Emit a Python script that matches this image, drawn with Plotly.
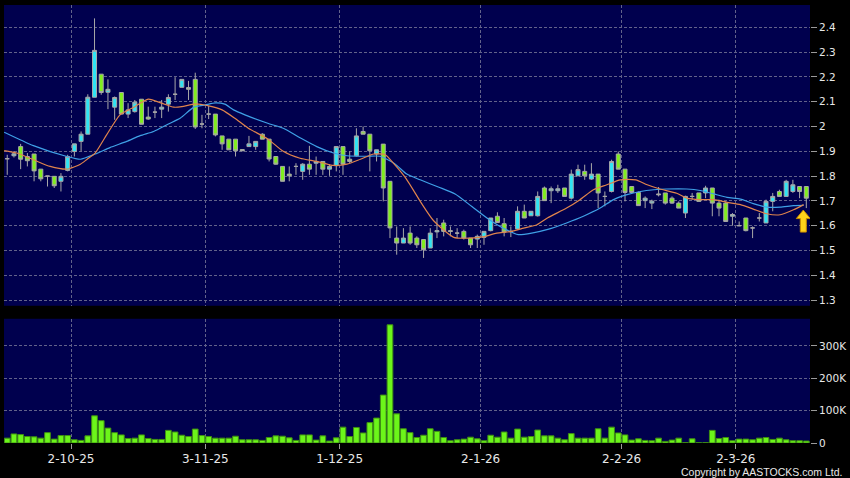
import plotly.graph_objects as go

# ---- data ----
tick_pos = [9.5, 29.5, 49.5, 70.5, 91.5, 108.5]
tick_labels = ["2-10-25", "3-11-25", "1-12-25", "2-1-26", "2-2-26", "2-3-26"]

opens = [
    1.870, 1.882, 1.919, 1.879, 1.889, 1.828, 1.800, 1.799, 1.779, 1.823,
    1.899, 1.940, 1.969, 2.118, 2.211, 2.138, 2.078, 2.137, 2.050, 2.060,
    2.110, 2.038, 2.058, 2.070, 2.090, 2.130, 2.158, 2.157, 2.190, 2.010,
    2.050, 2.050, 1.962, 1.949, 1.949, 1.907, 1.919, 1.919, 1.969, 1.949,
    1.879, 1.839, 1.808, 1.839, 1.819, 1.848, 1.852, 1.859, 1.828, 1.842,
    1.919, 1.868, 1.882, 1.980, 1.969, 1.889, 1.929, 1.779, 1.550, 1.530,
    1.570, 1.550, 1.544, 1.510, 1.575, 1.611, 1.580, 1.570, 1.577, 1.550,
    1.546, 1.553, 1.580, 1.638, 1.608, 1.577, 1.587, 1.658, 1.640, 1.640,
    1.752, 1.741, 1.741, 1.752, 1.711, 1.801, 1.819, 1.788, 1.808, 1.718,
    1.738, 1.889, 1.828, 1.758, 1.734, 1.701, 1.691, 1.728, 1.732, 1.711,
    1.691, 1.651, 1.718, 1.732, 1.732, 1.752, 1.691, 1.691, 1.638, 1.600,
    1.631, 1.591, 1.631, 1.611, 1.698, 1.738, 1.718, 1.738, 1.758, 1.758,
]
highs = [
    1.886, 1.900, 1.930, 1.893, 1.889, 1.828, 1.800, 1.799, 1.812, 1.886,
    1.930, 1.980, 2.130, 2.436, 2.211, 2.190, 2.121, 2.137, 2.094, 2.107,
    2.110, 2.080, 2.080, 2.107, 2.130, 2.199, 2.190, 2.184, 2.217, 2.047,
    2.083, 2.050, 1.962, 1.949, 1.949, 1.907, 1.962, 1.940, 1.973, 1.949,
    1.879, 1.839, 1.839, 1.852, 1.852, 1.922, 1.879, 1.859, 1.848, 1.919,
    1.919, 1.900, 1.993, 2.000, 1.969, 1.906, 1.929, 1.779, 1.597, 1.590,
    1.597, 1.557, 1.544, 1.590, 1.631, 1.624, 1.597, 1.590, 1.584, 1.550,
    1.564, 1.577, 1.631, 1.654, 1.631, 1.597, 1.678, 1.685, 1.658, 1.738,
    1.758, 1.758, 1.765, 1.752, 1.826, 1.846, 1.846, 1.852, 1.808, 1.738,
    1.866, 1.899, 1.828, 1.758, 1.738, 1.718, 1.705, 1.756, 1.732, 1.718,
    1.698, 1.721, 1.732, 1.732, 1.761, 1.752, 1.705, 1.698, 1.651, 1.617,
    1.631, 1.597, 1.651, 1.705, 1.732, 1.745, 1.785, 1.785, 1.758, 1.758,
]
lows = [
    1.805, 1.875, 1.828, 1.839, 1.779, 1.779, 1.758, 1.752, 1.738, 1.819,
    1.879, 1.900, 1.969, 2.118, 2.128, 2.070, 2.027, 2.050, 2.034, 2.056,
    2.009, 2.027, 2.034, 2.034, 2.060, 2.107, 2.158, 2.107, 1.990, 1.993,
    2.030, 1.960, 1.906, 1.906, 1.879, 1.902, 1.919, 1.906, 1.949, 1.859,
    1.846, 1.779, 1.779, 1.805, 1.785, 1.805, 1.805, 1.805, 1.801, 1.819,
    1.805, 1.852, 1.879, 1.969, 1.819, 1.859, 1.698, 1.550, 1.483, 1.530,
    1.523, 1.510, 1.470, 1.510, 1.550, 1.557, 1.557, 1.550, 1.544, 1.510,
    1.510, 1.523, 1.577, 1.613, 1.557, 1.554, 1.584, 1.631, 1.640, 1.637,
    1.701, 1.691, 1.732, 1.718, 1.705, 1.801, 1.785, 1.785, 1.671, 1.678,
    1.734, 1.828, 1.698, 1.734, 1.681, 1.671, 1.667, 1.718, 1.685, 1.688,
    1.671, 1.631, 1.705, 1.698, 1.711, 1.638, 1.638, 1.617, 1.600, 1.598,
    1.577, 1.550, 1.617, 1.611, 1.658, 1.718, 1.718, 1.732, 1.711, 1.671,
]
closes = [
    1.870, 1.890, 1.868, 1.862, 1.821, 1.789, 1.800, 1.761, 1.799, 1.879,
    1.930, 1.969, 2.118, 2.307, 2.137, 2.150, 2.117, 2.050, 2.067, 2.098,
    2.009, 2.030, 2.058, 2.078, 2.117, 2.130, 2.190, 2.150, 1.998, 2.010,
    2.050, 1.966, 1.930, 1.906, 1.902, 1.902, 1.930, 1.940, 1.949, 1.869,
    1.848, 1.779, 1.801, 1.839, 1.848, 1.828, 1.859, 1.828, 1.839, 1.919,
    1.848, 1.859, 1.962, 1.969, 1.902, 1.906, 1.752, 1.591, 1.530, 1.550,
    1.530, 1.523, 1.503, 1.570, 1.580, 1.577, 1.577, 1.570, 1.550, 1.523,
    1.557, 1.577, 1.631, 1.613, 1.574, 1.577, 1.658, 1.631, 1.658, 1.718,
    1.701, 1.749, 1.749, 1.718, 1.808, 1.826, 1.801, 1.808, 1.732, 1.718,
    1.859, 1.828, 1.734, 1.734, 1.681, 1.711, 1.699, 1.725, 1.691, 1.691,
    1.671, 1.718, 1.718, 1.698, 1.752, 1.691, 1.671, 1.617, 1.645, 1.600,
    1.580, 1.591, 1.631, 1.698, 1.718, 1.718, 1.779, 1.765, 1.738, 1.711,
]
# volume in thousands of shares
volume_k = [
    15, 28, 26, 20, 19, 15, 32, 12, 23, 23,
    10, 8, 22, 84, 69, 46, 32, 25, 14, 15,
    25, 14, 11, 11, 39, 34, 24, 20, 43, 23,
    20, 15, 15, 15, 21, 10, 10, 10, 8, 17,
    22, 21, 16, 8, 25, 25, 9, 22, 6, 16,
    49, 20, 48, 31, 63, 77, 148, 365, 90, 44,
    32, 17, 24, 44, 36, 17, 7, 10, 12, 18,
    13, 7, 24, 18, 34, 15, 43, 18, 20, 40,
    22, 22, 15, 10, 29, 15, 15, 15, 44, 15,
    49, 31, 25, 9, 13, 8, 7, 15, 5, 9,
    15, 1, 13, 0.5, 1, 39, 14, 17, 7, 12,
    12, 10, 15, 17, 11, 15, 10, 7, 7, 6,
]

# short moving average (orange)
ma_fast_x = [
    -0.45, 1.4, 3.9, 6.4, 8.9, 10.9, 11.9, 13.1, 14.8, 16.8,
    19.0, 21.0, 23.0, 24.8, 26.0, 28.0, 30.0, 32.0, 33.9, 35.9,
    38.8, 41.1, 43.6, 46.1, 48.6, 50.6, 52.6, 54.6, 56.3, 57.5,
    59.4, 61.7, 63.5, 66.5, 69.0, 71.0, 72.9, 74.9, 76.9, 78.9,
    80.5, 83.3, 85.3, 87.3, 89.3, 91.3, 93.6, 95.3, 97.2, 99.7,
    101.2, 103.2, 105.2, 107.2, 109.2, 111.1, 113.1, 115.1, 117.1, 118.6,
]
ma_fast_y = [
    1.903, 1.893, 1.866, 1.839, 1.828, 1.848, 1.868, 1.893, 1.966, 2.047,
    2.080, 2.110, 2.094, 2.078, 2.080, 2.091, 2.083, 2.067, 2.033, 1.993,
    1.950, 1.900, 1.872, 1.859, 1.843, 1.848, 1.868, 1.889, 1.886, 1.852,
    1.790, 1.690, 1.620, 1.553, 1.550, 1.556, 1.570, 1.576, 1.590, 1.604,
    1.632, 1.671, 1.705, 1.745, 1.765, 1.785, 1.785, 1.765, 1.748, 1.731,
    1.711, 1.705, 1.705, 1.694, 1.685, 1.667, 1.648, 1.644, 1.664, 1.685,
]
# longer moving average (blue)
ma_slow_x = [
    -0.45, 3.9, 8.9, 10.9, 13.1, 15.3, 17.8, 19.8, 21.8, 24.0,
    25.8, 27.8, 29.5, 31.0, 32.4, 33.7, 35.4, 38.8, 41.1, 43.6,
    46.1, 48.6, 50.6, 53.6, 55.5, 57.7, 59.5, 61.5, 64.2, 66.7,
    69.2, 71.7, 74.2, 76.1, 78.1, 80.5, 83.3, 85.8, 88.3, 90.3,
    92.3, 94.3, 96.3, 98.2, 101.2, 103.2, 105.2, 107.2, 109.2, 111.1,
    113.1, 115.1, 117.1, 118.6,
]
ma_slow_y = [
    1.977, 1.923, 1.879, 1.868, 1.889, 1.915, 1.940, 1.963, 1.980, 2.010,
    2.034, 2.078, 2.087, 2.095, 2.090, 2.067, 2.047, 2.013, 1.993, 1.955,
    1.919, 1.893, 1.882, 1.880, 1.880, 1.850, 1.808, 1.785, 1.756, 1.728,
    1.677, 1.626, 1.585, 1.564, 1.570, 1.585, 1.611, 1.638, 1.671, 1.705,
    1.725, 1.738, 1.745, 1.748, 1.748, 1.742, 1.728, 1.714, 1.707, 1.689,
    1.675, 1.675, 1.681, 1.682,
]

price_ticks = [1.3, 1.4, 1.5, 1.6, 1.7, 1.8, 1.9, 2.0, 2.1, 2.2, 2.3, 2.4]
price_labels = ["1.3", "1.4", "1.5", "1.6", "1.7", "1.8", "1.9", "2", "2.1", "2.2", "2.3", "2.4"]
vol_ticks = [0, 100, 200, 300]
vol_labels = ["0", "100K", "200K", "300K"]

idx = list(range(len(opens)))

BG = "#00004e"
GRID = "#62628a"
TXT = "#e8e8e8"
FONT = "DejaVu Sans, Verdana, sans-serif"

fig = go.Figure()

fig.add_trace(go.Candlestick(
    x=idx, open=opens, high=highs, low=lows, close=closes,
    increasing=dict(line=dict(color="#a8a8a8", width=1), fillcolor="#2fe4f4"),
    decreasing=dict(line=dict(color="#a8a8a8", width=1), fillcolor="#80ee1e"),
    whiskerwidth=0, hoverinfo="skip", showlegend=False,
    xaxis="x", yaxis="y",
))
fig.add_trace(go.Scatter(
    x=ma_slow_x, y=ma_slow_y, mode="lines",
    line=dict(color="#3fa0e6", width=1.2, shape="spline", smoothing=0.6),
    hoverinfo="skip", showlegend=False, xaxis="x", yaxis="y",
))
fig.add_trace(go.Scatter(
    x=ma_fast_x, y=ma_fast_y, mode="lines",
    line=dict(color="#e0844c", width=1.2, shape="spline", smoothing=0.6),
    hoverinfo="skip", showlegend=False, xaxis="x", yaxis="y",
))
fig.add_trace(go.Bar(
    x=idx, y=volume_k, width=0.85,
    marker=dict(color="#6cf51a", line=dict(color="#3f8f12", width=1)),
    hoverinfo="skip", showlegend=False, xaxis="x2", yaxis="y2",
))

# yellow "latest" arrow under the last candle
fig.add_shape(
    type="path", xref="x", yref="y",
    xsizemode="pixel", ysizemode="pixel",
    xanchor=idx[-1], yanchor=lows[-1],
    path="M -3 -2 L 4 -10.5 L 0 -10.5 L 0 -24 L -6 -24 L -6 -10.5 L -10 -10.5 Z",
    fillcolor="#ffd21a", line=dict(color="#c88a00", width=1),
)

x_range = [-0.48, 119.55]
common_x = dict(
    range=x_range, tickvals=tick_pos, showgrid=True, gridcolor=GRID,
    griddash="3px,2px", gridwidth=1, zeroline=False, showline=False,
    fixedrange=True,
)
common_y = dict(
    side="right", showgrid=True, gridcolor=GRID, griddash="3px,2px",
    gridwidth=1, zeroline=False, showline=False, ticks="outside",
    ticklen=6, tickcolor="#9a9a9a", fixedrange=True,
    tickfont=dict(color=TXT, size=10.5, family=FONT),
)

fig.update_layout(
    width=850, height=478,
    paper_bgcolor="#000000", plot_bgcolor=BG,
    margin=dict(l=4, r=39.5, t=5, b=34.7),
    font=dict(family=FONT, color=TXT),
    xaxis=dict(domain=[0, 1], anchor="y", showticklabels=False,
               rangeslider=dict(visible=False), **common_x),
    xaxis2=dict(domain=[0, 1], anchor="y2", matches="x", ticktext=tick_labels,
                ticks="outside", ticklen=5, tickcolor="#9a9a9a",
                tickfont=dict(color=TXT, size=12, family=FONT), **common_x),
    yaxis=dict(domain=[0.3133, 1], anchor="x", range=[1.277, 2.49],
               tickvals=price_ticks, ticktext=price_labels, **common_y),
    yaxis2=dict(domain=[0, 0.2836], anchor="x2", range=[0, 383.6],
                tickvals=vol_ticks, ticktext=vol_labels, **common_y),
    bargap=0.15, boxgap=0.15,
    annotations=[dict(
        text="Copyright by AASTOCKS.com Ltd.", xref="paper", yref="paper",
        x=1.0428, y=-0.066, xanchor="right", yanchor="middle",
        showarrow=False,
        font=dict(color=TXT, size=10.5, family="Liberation Sans, Arial, sans-serif"),
    )],
)

# page body has a default margin; drop it so the figure sits at the corner
fig.write_html(
    "out.html",
    config={"displayModeBar": False, "staticPlot": True},
    post_script="document.body.style.margin='0';",
)
